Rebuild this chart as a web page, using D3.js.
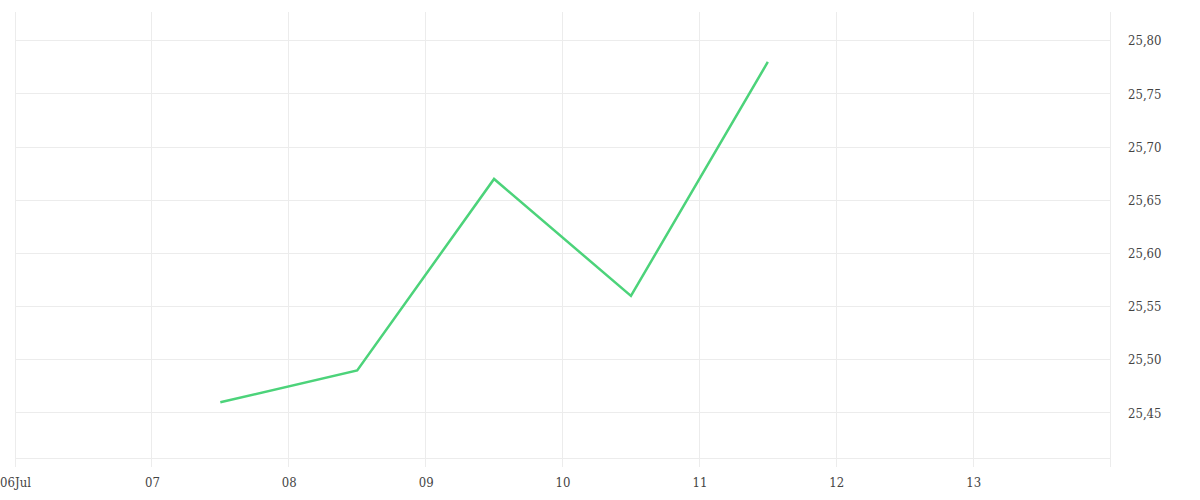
<!DOCTYPE html>
<html>
<head>
<meta charset="utf-8">
<script src="https://cdn.jsdelivr.net/npm/d3@7"></script>
<style>
  body { margin: 0; background: #fff; }
  svg { display: block; }
  .axis text { font-family: "DejaVu Serif", serif; font-stretch: condensed; font-size: 13px; fill: #444; }
  .axis path, .axis line { stroke: none; }
</style>
</head>
<body>
<script>
var dates = ["2020-07-07T12:00", "2020-07-08T12:00", "2020-07-09T12:00", "2020-07-10T12:00", "2020-07-11T12:00"];
var values = [25.46, 25.49, 25.67, 25.56, 25.78];
var yTicks = [25.45, 25.50, 25.55, 25.60, 25.65, 25.70, 25.75, 25.80];

var w = 1200, h = 500;
var margin = {top: 12, right: 90, bottom: 42, left: 15};
var iw = w - margin.left - margin.right,
    ih = h - margin.top - margin.bottom;

var parse = d3.timeParse("%Y-%m-%dT%H:%M");
var dataset = dates.map(function (d, i) { return {date: parse(d), value: values[i]}; });

var xScale = d3.scaleTime()
    .domain([new Date(2020, 6, 6), new Date(2020, 6, 14)])
    .range([0, iw]);

var yScale = d3.scaleLinear()
    .domain([25.4076, 25.827])
    .range([ih, 0]);

var comma = d3.formatLocale({decimal: ",", thousands: ".", grouping: [3], currency: ["", ""]}).format(".2f");

var svg = d3.select("body").append("svg")
    .attr("width", w)
    .attr("height", h)
    .append("g")
    .attr("transform", "translate(" + margin.left + "," + margin.top + ")");

var days = d3.timeDay.range(new Date(2020, 6, 6), new Date(2020, 6, 15));

// grid
svg.append("g").selectAll("line.v")
    .data(days)
    .enter().append("line")
    .attr("x1", function (d) { return xScale(d); })
    .attr("x2", function (d) { return xScale(d); })
    .attr("y1", 0)
    .attr("y2", ih + 9)
    .attr("stroke", "#ececec")
    .attr("shape-rendering", "crispEdges");

svg.append("g").selectAll("line.h")
    .data(yTicks.concat([yScale.domain()[0]]))
    .enter().append("line")
    .attr("x1", 0)
    .attr("x2", iw)
    .attr("y1", function (d) { return yScale(d); })
    .attr("y2", function (d) { return yScale(d); })
    .attr("stroke", "#ececec")
    .attr("shape-rendering", "crispEdges");

var xAxis = d3.axisBottom(xScale)
    .tickValues(days.slice(0, 8))
    .tickSize(0)
    .tickPadding(20)
    .tickFormat(function (d, i) { return i === 0 ? d3.timeFormat("%d%b")(d) : d3.timeFormat("%d")(d); });

var yAxis = d3.axisRight(yScale)
    .tickValues(yTicks)
    .tickSize(0)
    .tickPadding(18)
    .tickFormat(comma);

svg.append("g").attr("class", "axis").attr("transform", "translate(0," + ih + ")").call(xAxis);
svg.append("g").attr("class", "axis").attr("transform", "translate(" + iw + ",0)").call(yAxis);

var line = d3.line()
    .x(function (d) { return xScale(d.date); })
    .y(function (d) { return yScale(d.value); });

svg.append("path")
    .attr("d", line(dataset))
    .attr("fill", "none")
    .attr("stroke", "#4cd37a")
    .attr("stroke-width", 2.5);
</script>
</body>
</html>
